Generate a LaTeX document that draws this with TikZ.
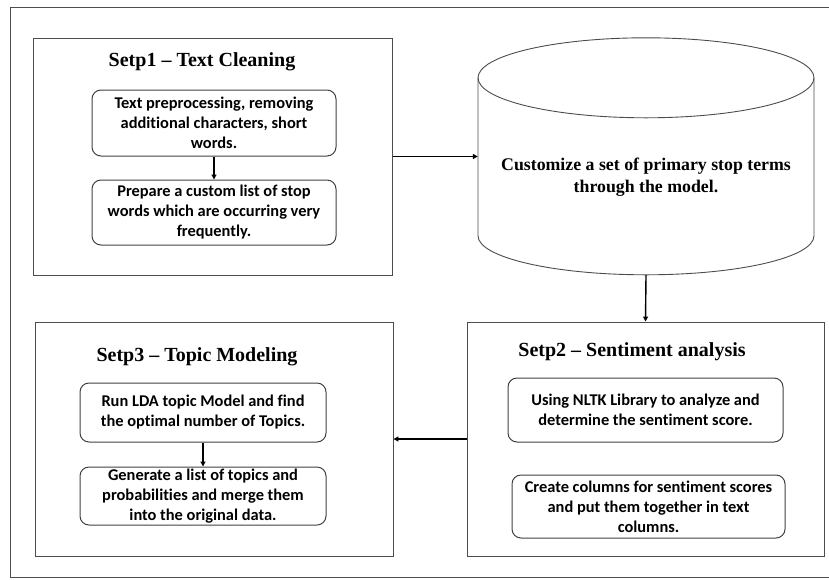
\documentclass[tikz,border=0pt]{standalone}
\usepackage{fontspec}
\setmainfont{Liberation Serif}
\newfontfamily\boxfont[Ligatures={NoCommon,NoRequired}]{Carlito}
\usetikzlibrary{arrows.meta}
\tikzset{
  frameline/.style={draw=black!70, line width=0.9pt},
  stepbox/.style={frameline, rectangle, inner sep=0pt},
  itembox/.style={draw=black!75, line width=1pt, rounded corners=9pt, inner sep=0pt, align=center,
    font=\boxfont\bfseries\fontsize{16.4}{20}\selectfont},
  steptitle/.style={inner sep=0pt, font=\bfseries\fontsize{20}{22}\selectfont},
  flow/.style={draw=black, line width=1.4pt, -{Triangle[length=5pt,width=5pt]}},
}
\begin{document}
\begin{tikzpicture}[x=1pt,y=1pt]
\useasboundingbox (0,0) rectangle (829,-579);
% outer frame (its right edge lies outside the picture)
\draw[frameline] (840,-7.5) -- (10,-7.5) -- (10,-577.5) -- (840,-577.5);

% Step 1
\node[stepbox, minimum width=359pt, minimum height=237pt] (s1) at (213,-156.5) {};
\node[steptitle] (t1) at (202,-62) {Setp1 -- Text Cleaning};
\node[itembox, minimum width=244pt, minimum height=66pt] (s1a) at (214,-123)
  {Text preprocessing, removing\\additional characters, short\\words.};
\node[itembox, minimum width=244pt, minimum height=65pt] (s1b) at (214,-212.5)
  {Prepare a custom list of stop\\words which are occurring very\\frequently.};

% Cylinder
\node[minimum width=336pt, minimum height=237pt, inner sep=0pt] (cyl) at (646,-156.5) {};
\path (cyl.north) ++(0,-40) coordinate (ct);
\draw[frameline] (ct) ellipse [x radius=168, y radius=40];
\draw[frameline] (ct) ++(-168,0) -- ++(0,-158)
  arc[start angle=180, end angle=360, x radius=168, y radius=39] -- ++(0,158);
\node[inner sep=0pt, align=center, font=\bfseries\fontsize{17.8}{22.5}\selectfont] (ctext) at (646,-177)
  {Customize a set of primary stop terms\\through the model.};

% Step 2
\node[stepbox, minimum width=357pt, minimum height=234pt] (s2) at (645.5,-439) {};
\node[steptitle] (t2) at (632,-352) {Setp2 -- Sentiment analysis};
\node[itembox, minimum width=275pt, minimum height=64pt] (s2a) at (645.5,-410)
  {Using NLTK Library to analyze and\\determine the sentiment score.};
\node[itembox, minimum width=273pt, minimum height=63pt] (s2b) at (648.5,-506.5)
  {Create columns for sentiment scores\\and put them together in text\\columns.};

% Step 3
\node[stepbox, minimum width=358pt, minimum height=234pt] (s3) at (214,-439) {};
\node[steptitle] (t3) at (197,-357) {Setp3 -- Topic Modeling};
\node[itembox, minimum width=246pt, minimum height=59pt] (s3a) at (203,-412.5)
  {Run LDA topic Model and find\\the optimal number of Topics.};
\node[itembox, minimum width=246pt, minimum height=58pt] (s3b) at (203,-496)
  {Generate a list of topics and\\probabilities and merge them\\into the original data.};

% connectors
\draw[flow] (s1.east) -- (cyl.west);
\draw[flow] (cyl.south) -- (s2.north);
\draw[flow] (s2.west) -- (s3.east);
\draw[flow, line width=1.2pt] (s1a.south) -- (s1b.north);
\draw[flow, line width=1.2pt] (s3a.south) -- (s3b.north);
\end{tikzpicture}
\end{document}
